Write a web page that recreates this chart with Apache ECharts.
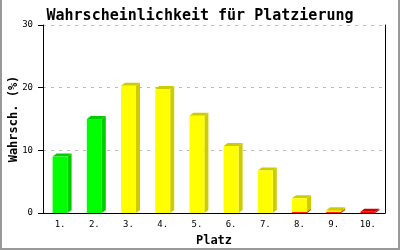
<!DOCTYPE html>
<html><head><meta charset="utf-8">
<script src="https://cdn.jsdelivr.net/npm/echarts@6/dist/echarts.min.js"></script>
<style>html,body{margin:0;padding:0;background:#fff}#c{width:400px;height:250px}</style>
</head><body><div id="c"></div>
<script>
const categories = ['1.','2.','3.','4.','5.','6.','7.','8.','9.','10.'];
const redValues    = [0,0,0,0,0,0,0,0.15,0.15,0.2];
const yellowValues = [0,0,20.3,19.8,15.5,10.7,6.8,2.2,0.3,0];
const greenValues  = [9.0,15.0,0,0,0,0,0,0,0,0];
const yTicks = [0,10,20,30];

const stacks = [
  {name:'red', values:redValues, front:'#ff0000', dark:'#cc0000'},
  {name:'yellow', values:yellowValues, front:'#ffff00', dark:'#cccc00'},
  {name:'green', values:greenValues, front:'#00ff00', dark:'#00cc00'}
];
const base = categories.map(()=>0);
const series = stacks.map(s=>{
  const data = s.values.map((v,i)=>{ const b = base[i]; base[i]+=v; return [i,b,v]; });
  return {
    type:'custom', name:s.name, data:data, yAxisIndex:0,
    encode:{x:0,y:[1,2]},
    renderItem:function(params, api){
      const v = api.value(2);
      if(!v) return null;
      const b = api.value(1);
      const p0 = api.coord([api.value(0), b]);
      const p1 = api.coord([api.value(0), b+v]);
      const bw = 15, d = 4, r = 3;
      const x0 = p0[0]-bw/2, x1 = x0+bw;
      const top = p1[1], bot = p0[1];
      return {type:'group', children:[
        {type:'polygon', shape:{points:[[x1,top],[x1+d,top-r],[x1+d,bot-r],[x1,bot]]}, style:{fill:s.dark}},
        {type:'polygon', shape:{points:[[x0,top],[x0+d,top-r],[x1+d,top-r],[x1,top]]}, style:{fill:s.dark}},
        {type:'rect', shape:{x:x0,y:top,width:bw,height:bot-top}, style:{fill:s.front}}
      ]};
    }
  };
});

const chart = echarts.init(document.getElementById('c'), null, {renderer:'canvas'});
chart.setOption({
  animation:false,
  backgroundColor:'#fff',
  title:{text:'Wahrscheinlichkeit für Platzierung', left:'center', top:4,
    textStyle:{fontFamily:'DejaVu Sans Mono', fontWeight:'bold', fontSize:15, color:'#000'}},
  grid:{left:43, right:15, top:25, bottom:37, containLabel:false, outerBoundsMode:'none'},
  xAxis:{type:'category', data:categories, boundaryGap:true,
    name:'Platz', nameLocation:'middle', nameGap:22, nameMoveOverlap:false,
    nameTextStyle:{fontFamily:'DejaVu Sans Mono', fontWeight:'bold', fontSize:12, color:'#000'},
    axisLine:{lineStyle:{color:'#000', width:1}}, axisTick:{show:false},
    axisLabel:{fontFamily:'DejaVu Sans Mono', fontSize:9, color:'#000', margin:7}},
  yAxis:[{type:'value', min:yTicks[0], max:yTicks[yTicks.length-1], interval:10,
    name:'Wahrsch. (%)', nameLocation:'middle', nameGap:23, nameMoveOverlap:false,
    nameTextStyle:{fontFamily:'DejaVu Sans Mono', fontWeight:'bold', fontSize:12, color:'#000'},
    axisLine:{show:true, lineStyle:{color:'#000', width:1}},
    axisTick:{show:true, length:5, lineStyle:{color:'#000'}},
    axisLabel:{fontFamily:'DejaVu Sans Mono', fontSize:9, color:'#000', margin:10},
    splitLine:{show:true, lineStyle:{color:'#bbbbbb', type:[3,5], width:1}}},
   {type:'value', position:'right', min:0, max:30, interval:10,
    axisLine:{show:true, lineStyle:{color:'#000', width:1}},
    axisTick:{show:false}, axisLabel:{show:false}, splitLine:{show:false}}],
  graphic:[
    {type:'rect', shape:{x:0,y:0,width:2,height:250}, style:{fill:'#999'}},
    {type:'rect', shape:{x:398,y:0,width:2,height:250}, style:{fill:'#999'}},
    {type:'rect', shape:{x:0,y:248,width:400,height:2}, style:{fill:'#999'}}
  ],
  series:series
});
</script></body></html>
